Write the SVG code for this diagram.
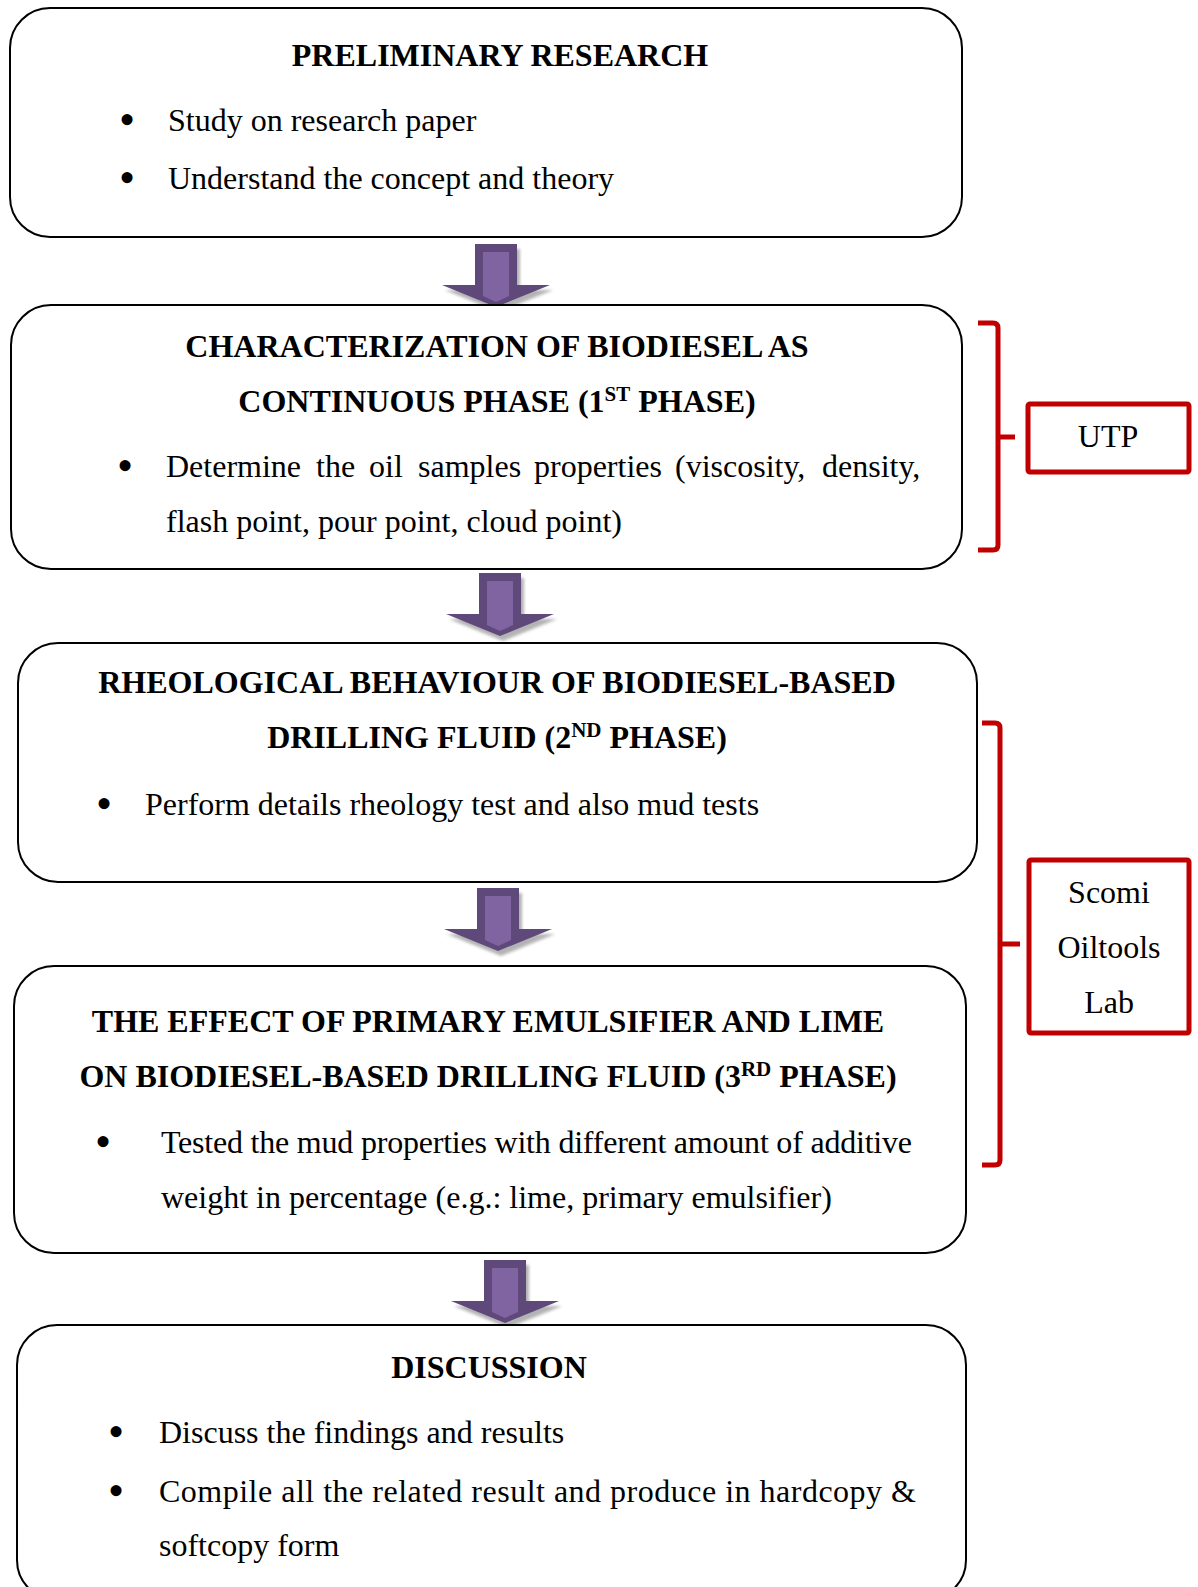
<svg xmlns="http://www.w3.org/2000/svg" xmlns:xlink="http://www.w3.org/1999/xlink" width="1198" height="1587" viewBox="0 0 1198 1587">
<style>
.box{fill:#fff;stroke:#000;stroke-width:2}
.t{font-family:"Liberation Serif","Times New Roman",serif;font-size:32px;fill:#000}
.b{font-weight:bold;text-anchor:middle}
.c{text-anchor:middle}
.bu{font-family:"Liberation Serif","Times New Roman",serif;font-size:46px;fill:#000;text-anchor:middle}
.red{fill:none;stroke:#C00000;stroke-width:5;stroke-linejoin:round}
.sup{font-size:21px}
</style>
<defs>
<filter id="blur" x="-20%" y="-20%" width="140%" height="140%"><feGaussianBlur stdDeviation="1.5"/></filter>
<g id="arrow">
<polygon points="-21,0 21,0 21,41 54,41 0,63 -54,41 -21,41" transform="translate(3,5)" fill="#9a9a9a" opacity="0.75" filter="url(#blur)"/>
<polygon points="-21,0 21,0 21,41 54,41 0,63 -54,41 -21,41" fill="#5F497A"/>
<polygon points="-13,8 13,8 13,52 0,58 -13,52" fill="#8064A2"/>
</g>
</defs>
<rect width="1198" height="1587" fill="#fff"/>

<g id="connectors">
<use xlink:href="#arrow" transform="translate(496,244)"/>
<use xlink:href="#arrow" transform="translate(500,573)"/>
<use xlink:href="#arrow" transform="translate(498,888)"/>
<use xlink:href="#arrow" transform="translate(505,1260)"/>
<path class="red" d="M978,323 H993 Q998,323 998,328 V545 Q998,550 993,550 H978 M998,437 H1015"/>
<path class="red" d="M982,723 H995 Q1000,723 1000,728 V1160 Q1000,1165 995,1165 H982 M1000,944 H1020"/>
</g>

<g id="node-preliminary">
<rect class="box" x="10" y="8" width="952" height="229" rx="40" ry="40"/>
<text class="t b" x="500" y="66">PRELIMINARY RESEARCH</text>
<text class="bu" x="127" y="135">•</text>
<text class="t" x="168" y="131">Study on research paper</text>
<text class="bu" x="127" y="193">•</text>
<text class="t" x="168" y="189">Understand the concept and theory</text>
</g>

<g id="node-phase1">
<rect class="box" x="11" y="305" width="951" height="264" rx="40" ry="40"/>
<text class="t b" x="497" y="357">CHARACTERIZATION OF BIODIESEL AS</text>
<text class="t b" x="497" y="412">CONTINUOUS PHASE (1<tspan class="sup" dy="-11">ST</tspan><tspan dy="11"> PHASE)</tspan></text>
<text class="bu" x="125" y="481">•</text>
<text class="t" y="477"><tspan x="166">Determine</tspan><tspan x="316">the</tspan><tspan x="369">oil</tspan><tspan x="418">samples</tspan><tspan x="534">properties</tspan><tspan x="675">(viscosity,</tspan><tspan x="822">density,</tspan></text>
<text class="t" x="166" y="532">flash point, pour point, cloud point)</text>
</g>

<g id="node-phase2">
<rect class="box" x="18" y="643" width="959" height="239" rx="40" ry="40"/>
<text class="t b" x="497" y="693">RHEOLOGICAL BEHAVIOUR OF BIODIESEL-BASED</text>
<text class="t b" x="497" y="748">DRILLING FLUID (2<tspan class="sup" dy="-11">ND</tspan><tspan dy="11"> PHASE)</tspan></text>
<text class="bu" x="104" y="819">•</text>
<text class="t" x="145" y="815">Perform details rheology test and also mud tests</text>
</g>

<g id="node-phase3">
<rect class="box" x="14" y="966" width="952" height="287" rx="40" ry="40"/>
<text class="t b" x="488" y="1032">THE EFFECT OF PRIMARY EMULSIFIER AND LIME</text>
<text class="t b" x="488" y="1087">ON BIODIESEL-BASED DRILLING FLUID (3<tspan class="sup" dy="-11">RD</tspan><tspan dy="11"> PHASE)</tspan></text>
<text class="bu" x="103" y="1157">•</text>
<text class="t" x="161" y="1153" textLength="751" lengthAdjust="spacing">Tested the mud properties with different amount of additive</text>
<text class="t" x="161" y="1208">weight in percentage (e.g.: lime, primary emulsifier)</text>
</g>

<g id="node-discussion">
<rect class="box" x="17" y="1325" width="949" height="275" rx="40" ry="40"/>
<text class="t b" x="489" y="1378">DISCUSSION</text>
<text class="bu" x="116" y="1447">•</text>
<text class="t" x="159" y="1443">Discuss the findings and results</text>
<text class="bu" x="116" y="1506">•</text>
<text class="t" x="159" y="1502" textLength="757" lengthAdjust="spacing">Compile all the related result and produce in hardcopy &amp;</text>
<text class="t" x="159" y="1556">softcopy form</text>
</g>

<g id="node-utp">
<rect class="red" x="1028" y="404" width="161" height="68" rx="2"/>
<text class="t c" x="1108" y="447">UTP</text>
</g>

<g id="node-scomi">
<rect class="red" x="1029" y="860" width="160" height="173" rx="2"/>
<text class="t c" x="1109" y="903">Scomi</text>
<text class="t c" x="1109" y="958">Oiltools</text>
<text class="t c" x="1109" y="1013">Lab</text>
</g>
</svg>
